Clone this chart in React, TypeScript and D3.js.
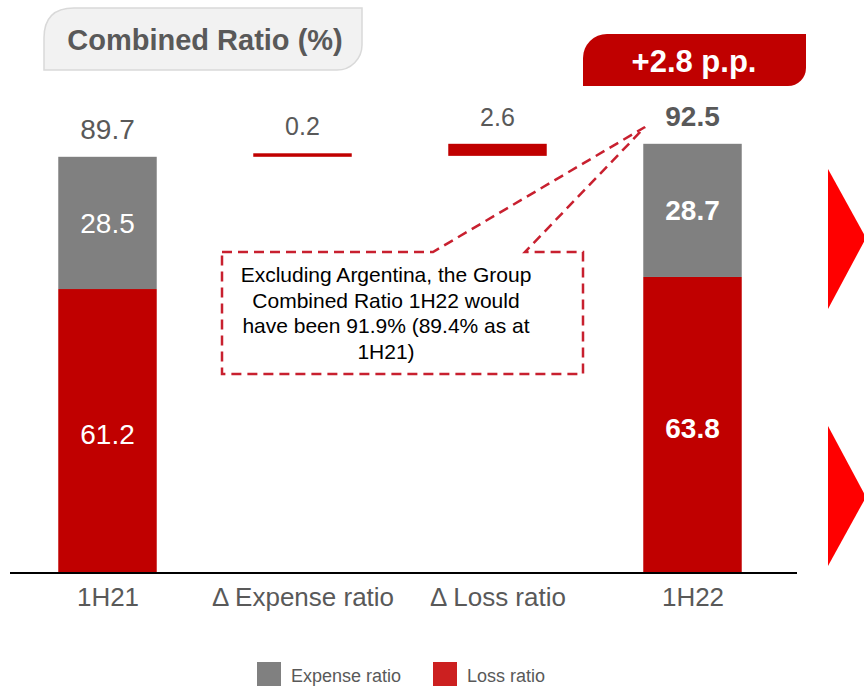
import React, { useEffect, useRef } from "react";
import * as d3 from "d3";

// chart data
const categories = ["1H21", "Δ Expense ratio", "Δ Loss ratio", "1H22"];
const periods = ["1H21", "1H22"];
const expenseRatio = [28.5, 28.7];
const lossRatio = [61.2, 63.8];
const totalRatio = [89.7, 92.5];
const deltaCategories = ["Δ Expense ratio", "Δ Loss ratio"];
const deltaValues = [0.2, 2.6];
const legendLabels = ["Expense ratio", "Loss ratio"];

const GRAY = "#808080";
const RED = "#c00000";
const TEXT = "#595959";
const FONT = "'Liberation Sans', Arial, sans-serif";

const App = () => {
  const ref = useRef<SVGSVGElement>(null);

  useEffect(() => {
    const svg = d3.select(ref.current);
    svg.selectAll("*").remove();

    const baseline = 573;
    const x = d3.scalePoint<string>().domain(categories).range([10, 790]).padding(0.5);
    const barW = x.step() * 0.505;
    const y = d3.scaleLinear().domain([0, 100]).range([baseline, 109]);

    // title box
    svg.append("path")
      .attr("d", "M44,38 Q44,8 74,8 H362 V45 A25,25 0 0 1 337,70 H44 Z")
      .attr("fill", "#f2f2f2")
      .attr("stroke", "#d9d9d9")
      .attr("stroke-width", 1.5);
    svg.append("text")
      .attr("x", 205).attr("y", 50)
      .attr("text-anchor", "middle")
      .attr("font-family", FONT).attr("font-size", 29).attr("font-weight", "bold")
      .attr("fill", TEXT)
      .text("Combined Ratio (%)");

    // +2.8 p.p. badge
    svg.append("path")
      .attr("d", "M583,58 A24,24 0 0 1 607,34 H806 V68 A18,18 0 0 1 788,86 H583 Z")
      .attr("fill", RED);
    svg.append("text")
      .attr("x", 694).attr("y", 72)
      .attr("text-anchor", "middle")
      .attr("font-family", FONT).attr("font-size", 31).attr("font-weight", "bold")
      .attr("fill", "#fff")
      .text("+2.8 p.p.");

    // stacked period bars
    const g = svg.append("g");
    periods.forEach((p, i) => {
      const cx = x(p)!;
      const bold = i === 1 ? "bold" : "normal";
      g.append("rect")
        .attr("x", cx - barW / 2).attr("width", barW)
        .attr("y", y(lossRatio[i])).attr("height", baseline - y(lossRatio[i]))
        .attr("fill", RED);
      g.append("rect")
        .attr("x", cx - barW / 2).attr("width", barW)
        .attr("y", y(totalRatio[i])).attr("height", y(lossRatio[i]) - y(totalRatio[i]))
        .attr("fill", GRAY);
      g.append("text")
        .attr("x", cx).attr("y", (y(lossRatio[i]) + baseline) / 2 + 13)
        .attr("text-anchor", "middle")
        .attr("font-family", FONT).attr("font-size", 28).attr("font-weight", bold)
        .attr("fill", "#fff")
        .text(lossRatio[i].toFixed(1));
      g.append("text")
        .attr("x", cx).attr("y", (y(lossRatio[i]) + y(totalRatio[i])) / 2 + 10)
        .attr("text-anchor", "middle")
        .attr("font-family", FONT).attr("font-size", 28).attr("font-weight", bold)
        .attr("fill", "#fff")
        .text(expenseRatio[i].toFixed(1));
      g.append("text")
        .attr("x", cx).attr("y", y(totalRatio[i]) - 18)
        .attr("text-anchor", "middle")
        .attr("font-family", FONT).attr("font-size", 28).attr("font-weight", bold)
        .attr("fill", TEXT)
        .text(totalRatio[i].toFixed(1));
    });

    // waterfall deltas
    let running = totalRatio[0];
    deltaCategories.forEach((c, i) => {
      const cx = x(c)!;
      const top = y(running + deltaValues[i]);
      const bottom = y(running);
      const h = Math.max(bottom - top, 3.5);
      g.append("rect")
        .attr("x", cx - barW / 2).attr("width", barW)
        .attr("y", bottom - h).attr("height", h)
        .attr("fill", RED);
      g.append("text")
        .attr("x", cx).attr("y", bottom - h - 18)
        .attr("text-anchor", "middle")
        .attr("font-family", FONT).attr("font-size", 25)
        .attr("fill", TEXT)
        .text(deltaValues[i].toFixed(1));
      running += deltaValues[i];
    });

    // axis
    const axis = svg.append("g")
      .attr("transform", `translate(0, ${baseline})`)
      .call(d3.axisBottom(x).tickSize(0).tickPadding(15));
    axis.select(".domain").attr("d", "M10,0H797").attr("stroke", "#000").attr("stroke-width", 2);
    axis.selectAll("text")
      .attr("font-family", FONT).attr("font-size", 26).attr("fill", TEXT);

    // callout
    svg.append("path")
      .attr("d", "M222,252 H433 L645,127 L525,252 H583 V374 H222 Z")
      .attr("fill", "none")
      .attr("stroke", "#c8202f")
      .attr("stroke-width", 2.5)
      .attr("stroke-dasharray", "10,6");
    const lines = ["Excluding Argentina, the Group", "Combined Ratio 1H22 would", "have been 91.9% (89.4% as at", "1H21)"];
    svg.append("g").selectAll("text")
      .data(lines)
      .enter()
      .append("text")
      .attr("x", 386)
      .attr("y", (d, i) => 282 + i * 25.5)
      .attr("text-anchor", "middle")
      .attr("font-family", FONT).attr("font-size", 21)
      .attr("fill", "#000")
      .text(d => d);

    // right arrows
    [[169, 238, 309], [426, 497, 566]].forEach(([t, m, b]) => {
      svg.append("path")
        .attr("d", `M828,${t} L866,${m} L828,${b} Z`)
        .attr("fill", "#ff0000");
    });

    // legend
    const legendColors = [GRAY, "#cc2020"];
    const legendX = [257, 433];
    legendLabels.forEach((l, i) => {
      svg.append("rect")
        .attr("x", legendX[i]).attr("y", 662)
        .attr("width", 24).attr("height", 24)
        .attr("fill", legendColors[i]);
      svg.append("text")
        .attr("x", legendX[i] + 34).attr("y", 682)
        .attr("font-family", FONT).attr("font-size", 18)
        .attr("fill", TEXT)
        .text(l);
    });
  }, []);

  return (
    <svg
      ref={ref}
      width={864}
      height={686}
      style={{ position: "absolute", left: 0, top: 0, display: "block", background: "#fff" }}
    />
  );
};

export default App;
